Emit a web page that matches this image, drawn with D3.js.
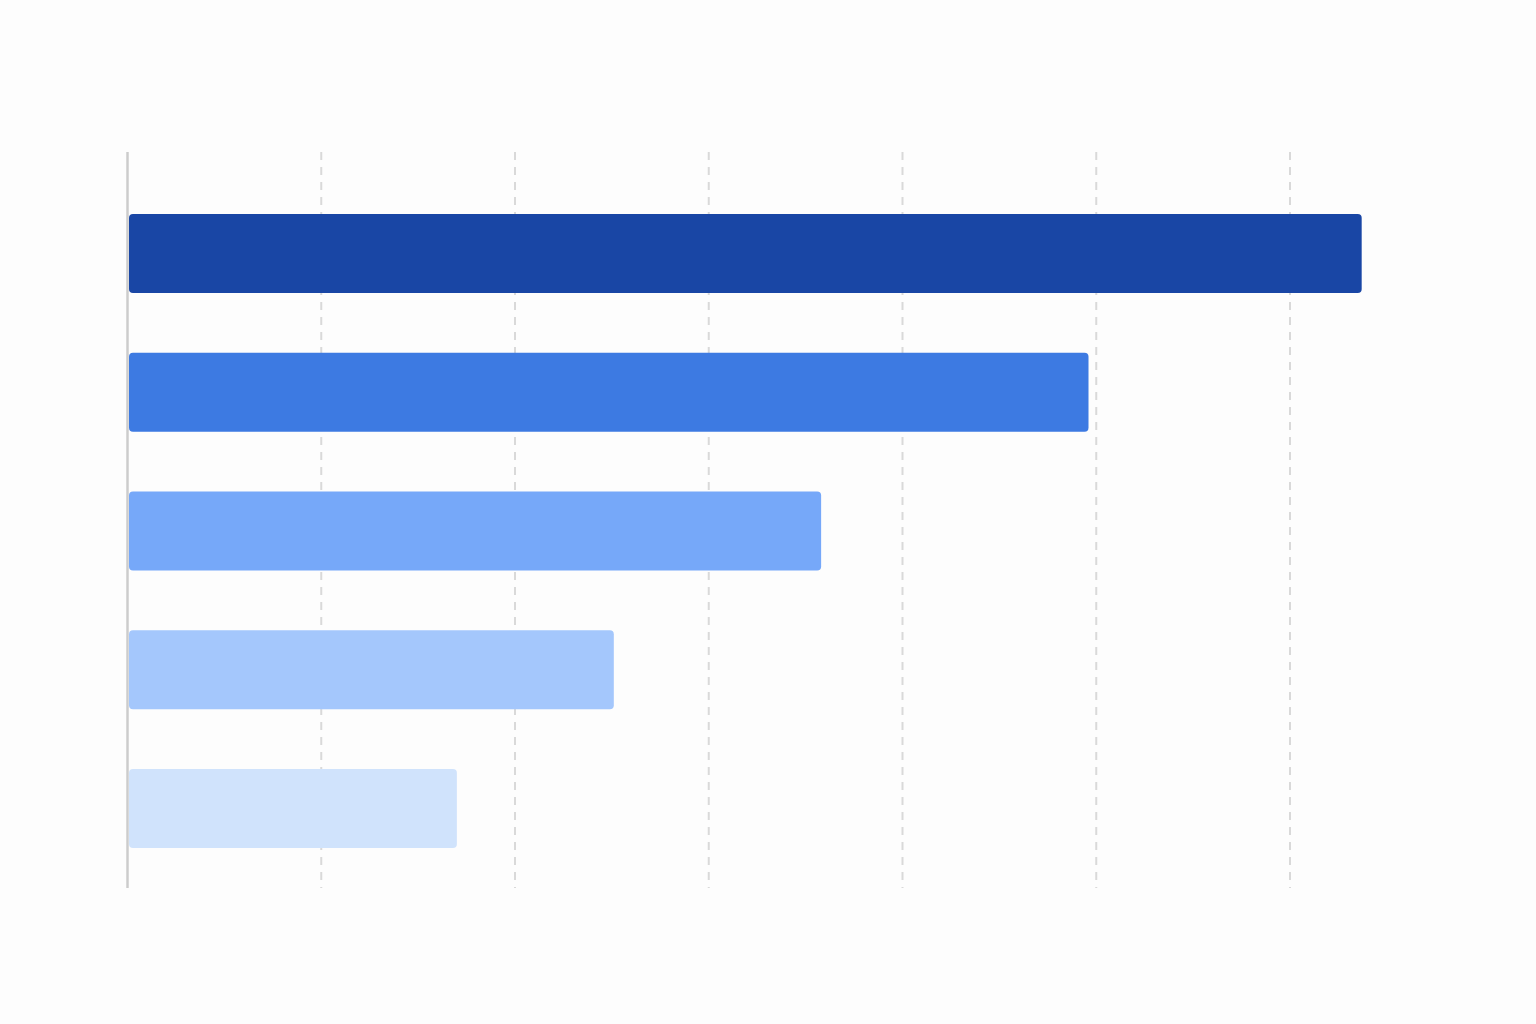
<!DOCTYPE html>
<html><head><meta charset="utf-8">
<script src="https://cdn.jsdelivr.net/npm/d3@7"></script>
<style>html,body{margin:0;padding:0;background:#fdfdfd;}svg{display:block;}</style>
</head><body>
<script>
const categories = ["A", "B", "C", "D", "E"];
const values = [63.7, 49.6, 35.8, 25.1, 17.0];
const colors = ["#1946a5", "#3d7ae2", "#76a8f9", "#a4c7fc", "#d0e3fc"];
const tickValues = [10, 20, 30, 40, 50, 60];

const W = 1536, H = 1024;
const svg = d3.select("body").append("svg").attr("width", W).attr("height", H);
svg.append("rect").attr("width", W).attr("height", H).attr("fill", "#fdfdfd");

const x = d3.scaleLinear().domain([0, 60]).range([127.5, 1290]);
const y = d3.scaleBand().domain(categories).range([183.5, 878.5]).paddingInner(0.43).paddingOuter(0.22);

const gridTop = 152, gridBottom = 888;

svg.append("g").selectAll("line").data(tickValues).join("line")
  .attr("x1", d => x(d)).attr("x2", d => x(d))
  .attr("y1", gridTop).attr("y2", gridBottom)
  .attr("stroke", "#d9d9d9").attr("stroke-width", 2).attr("stroke-dasharray", "8,7");

svg.append("g").selectAll("rect").data(values).join("rect")
  .attr("x", x(0) + 1.5)
  .attr("y", (d, i) => y(categories[i]))
  .attr("width", d => x(d) - x(0) - 1.5)
  .attr("height", y.bandwidth())
  .attr("rx", 4).attr("ry", 4)
  .attr("fill", (d, i) => colors[i]);

svg.append("line")
  .attr("x1", x(0)).attr("x2", x(0))
  .attr("y1", gridTop).attr("y2", gridBottom)
  .attr("stroke", "#cccccc").attr("stroke-width", 2.5);
</script>
</body></html>
